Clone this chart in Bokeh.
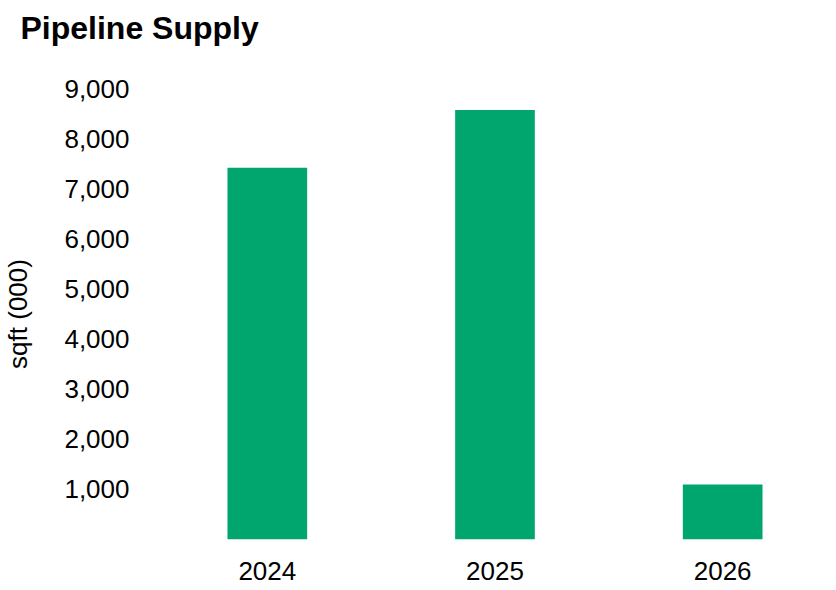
from bokeh.plotting import figure
from bokeh.models import Range1d, FixedTicker, NumeralTickFormatter, ColumnDataSource, Title
from bokeh.embed import file_html
from bokeh.resources import INLINE

title_text = "Pipeline Supply"
y_label_text = "sqft (000)"
years = ["2024", "2025", "2026"]
supply = [7420, 8570, 1100]
y_ticks = [1000, 2000, 3000, 4000, 5000, 6000, 7000, 8000, 9000]

xpos = [i + 0.5 for i in range(len(years))]
src = ColumnDataSource(dict(x=xpos, top=supply, year=years))

FONT = "Liberation Sans"

p = figure(width=836, height=590, output_backend="svg", toolbar_location=None,
           x_range=Range1d(-0.0526, 3.0), y_range=Range1d(0, 9000),
           min_border_left=140, min_border_right=0, min_border_top=88, min_border_bottom=51)

p.vbar(x="x", top="top", width=0.35, bottom=0, source=src,
       fill_color="#01A66E", line_color=None)

xax = p.below[0]
yax = p.left[0]

# title with a blank second line, which keeps it near the top of the page
p.add_layout(Title(text=title_text + "\n ", text_font=FONT, text_font_size="32px",
                   text_font_style="bold", text_color="#000000", text_line_height=1.15,
                   align="left", offset=-121, standoff=2), "above")

p.outline_line_color = None
p.xgrid.visible = False
p.ygrid.visible = False
p.background_fill_color = "white"
p.border_fill_color = "white"

for ax in (xax, yax):
    ax.axis_line_color = None
    ax.major_tick_line_color = None
    ax.minor_tick_line_color = None
    ax.major_tick_out = 0
    ax.major_tick_in = 0
    ax.minor_tick_out = 0
    ax.minor_tick_in = 0
    ax.major_label_text_font = FONT
    ax.major_label_text_font_size = "26px"
    ax.major_label_text_color = "#000000"

xax.ticker = FixedTicker(ticks=xpos)
xax.major_label_overrides = {x: y for x, y in zip(xpos, years)}
xax.major_label_standoff = 22

yax.ticker = FixedTicker(ticks=y_ticks)
yax.formatter = NumeralTickFormatter(format="0,0")
yax.major_label_standoff = 12
yax.axis_label = y_label_text
yax.axis_label_text_font = FONT
yax.axis_label_text_font_size = "26px"
yax.axis_label_text_font_style = "normal"
yax.axis_label_text_color = "#000000"
yax.axis_label_standoff = 28

open("out.html", "w").write(file_html(p, INLINE))
